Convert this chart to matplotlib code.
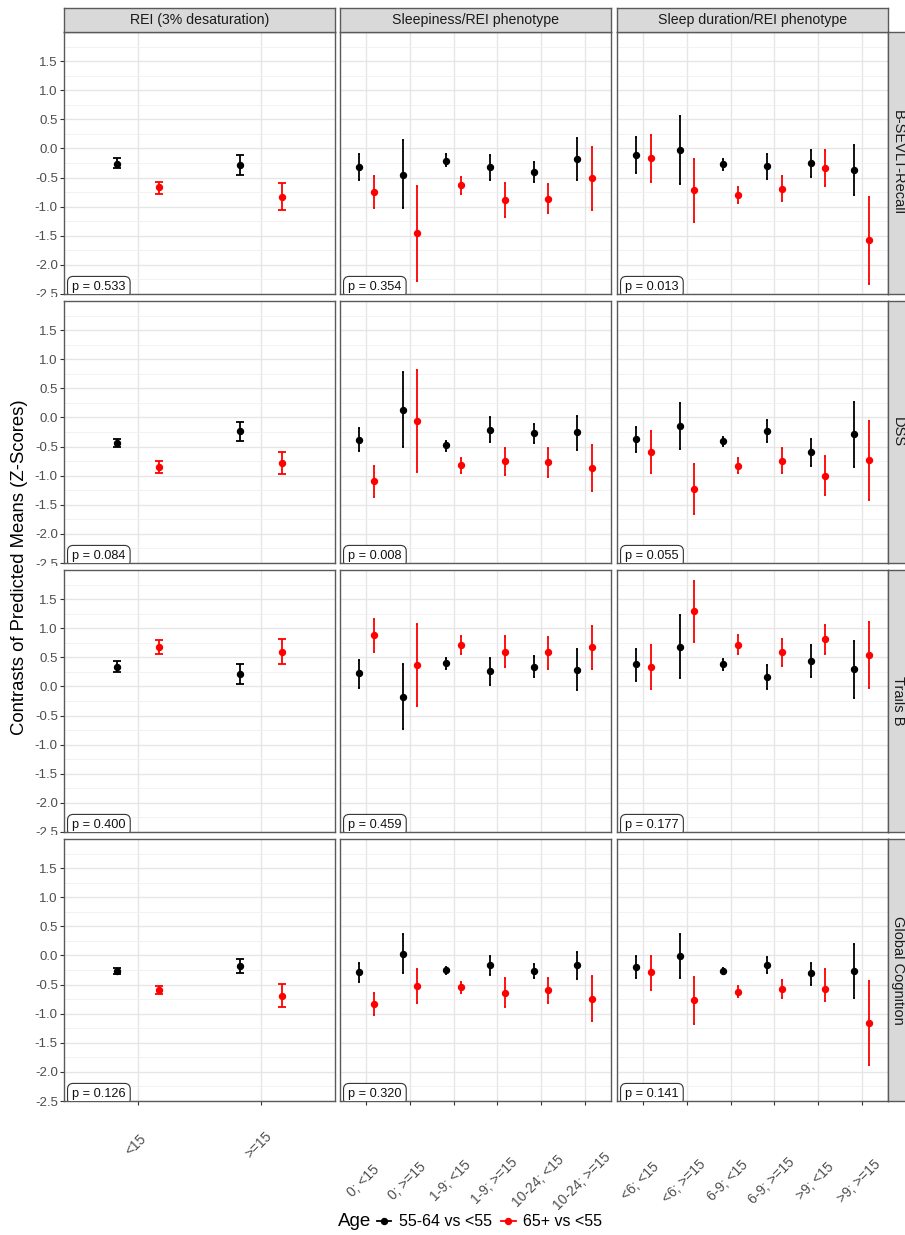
import matplotlib
matplotlib.use("Agg")
import matplotlib.pyplot as plt
import matplotlib.transforms as mtransforms
from matplotlib.lines import Line2D
import numpy as np

plt.rcParams['font.family'] = ['Liberation Sans', 'DejaVu Sans']

# ---------------- data ----------------
col_titles = ["REI (3% desaturation)", "Sleepiness/REI phenotype", "Sleep duration/REI phenotype"]
row_titles = ["B-SEVLT-Recall", "DSS", "Trails B", "Global Cognition"]
cats_rei = ["<15", ">=15"]
cats_sleepiness = ["0; <15", "0; >=15", "1-9; <15", "1-9; >=15", "10-24; <15", "10-24; >=15"]
cats_duration = ["<6; <15", "<6; >=15", "6-9; <15", "6-9; >=15", ">9; <15", ">9; >=15"]
series_labels = ["55-64 vs <55", "65+ vs <55"]
series_colors = ["#000000", "#FF0000"]

# each panel: estimates, lower, upper for 55-64 (a) and 65+ (b)
recall_rei_a = dict(est=[-0.26, -0.28], lo=[-0.34, -0.45], hi=[-0.17, -0.11])
recall_rei_b = dict(est=[-0.67, -0.83], lo=[-0.79, -1.06], hi=[-0.57, -0.60])
recall_slp_a = dict(est=[-0.32, -0.45, -0.21, -0.32, -0.41, -0.18],
                    lo=[-0.55, -1.03, -0.31, -0.54, -0.58, -0.54],
                    hi=[-0.09, 0.14, -0.09, -0.12, -0.23, 0.18])
recall_slp_b = dict(est=[-0.75, -1.46, -0.63, -0.89, -0.86, -0.51],
                    lo=[-1.02, -2.27, -0.78, -1.17, -1.11, -1.05],
                    hi=[-0.47, -0.64, -0.49, -0.60, -0.61, 0.02])
recall_dur_a = dict(est=[-0.11, -0.03, -0.27, -0.31, -0.25, -0.37],
                    lo=[-0.42, -0.61, -0.37, -0.52, -0.49, -0.80],
                    hi=[0.20, 0.55, -0.18, -0.10, -0.02, 0.06])
recall_dur_b = dict(est=[-0.17, -0.72, -0.80, -0.69, -0.34, -1.58],
                    lo=[-0.58, -1.26, -0.93, -0.90, -0.64, -2.32],
                    hi=[0.23, -0.18, -0.67, -0.48, -0.03, -0.83])

dss_rei_a = dict(est=[-0.44, -0.23], lo=[-0.50, -0.40], hi=[-0.37, -0.07])
dss_rei_b = dict(est=[-0.85, -0.78], lo=[-0.95, -0.97], hi=[-0.75, -0.59])
dss_slp_a = dict(est=[-0.38, 0.13, -0.48, -0.21, -0.27, -0.25],
                 lo=[-0.57, -0.51, -0.57, -0.42, -0.44, -0.56],
                 hi=[-0.18, 0.78, -0.40, 0.00, -0.12, 0.03])
dss_slp_b = dict(est=[-1.10, -0.06, -0.81, -0.75, -0.77, -0.87],
                 lo=[-1.37, -0.94, -0.95, -0.98, -1.02, -1.27],
                 hi=[-0.83, 0.81, -0.69, -0.53, -0.52, -0.48])
dss_dur_a = dict(est=[-0.37, -0.15, -0.41, -0.24, -0.60, -0.29],
                 lo=[-0.59, -0.55, -0.49, -0.42, -0.83, -0.85],
                 hi=[-0.16, 0.24, -0.33, -0.05, -0.37, 0.27])
dss_dur_b = dict(est=[-0.59, -1.23, -0.83, -0.74, -1.00, -0.73],
                 lo=[-0.95, -1.65, -0.95, -0.95, -1.33, -1.41],
                 hi=[-0.24, -0.80, -0.70, -0.53, -0.67, -0.06])

trails_rei_a = dict(est=[0.34, 0.21], lo=[0.24, 0.04], hi=[0.44, 0.39])
trails_rei_b = dict(est=[0.68, 0.60], lo=[0.55, 0.39], hi=[0.80, 0.81])
trails_slp_a = dict(est=[0.23, -0.18, 0.40, 0.26, 0.34, 0.29],
                    lo=[-0.02, -0.73, 0.30, 0.03, 0.16, -0.06],
                    hi=[0.46, 0.38, 0.49, 0.48, 0.53, 0.65])
trails_slp_b = dict(est=[0.88, 0.37, 0.72, 0.60, 0.59, 0.67],
                    lo=[0.60, -0.33, 0.55, 0.34, 0.30, 0.30],
                    hi=[1.15, 1.07, 0.87, 0.87, 0.85, 1.04])
trails_dur_a = dict(est=[0.38, 0.68, 0.38, 0.16, 0.44, 0.30],
                    lo=[0.09, 0.14, 0.28, -0.04, 0.16, -0.19],
                    hi=[0.65, 1.22, 0.47, 0.36, 0.72, 0.78])
trails_dur_b = dict(est=[0.33, 1.30, 0.72, 0.59, 0.81, 0.54],
                    lo=[-0.05, 0.77, 0.56, 0.35, 0.55, -0.02],
                    hi=[0.71, 1.81, 0.88, 0.81, 1.06, 1.10])

glob_rei_a = dict(est=[-0.27, -0.18], lo=[-0.32, -0.30], hi=[-0.22, -0.06])
glob_rei_b = dict(est=[-0.60, -0.69], lo=[-0.67, -0.89], hi=[-0.53, -0.49])
glob_slp_a = dict(est=[-0.29, 0.03, -0.25, -0.17, -0.27, -0.17],
                  lo=[-0.45, -0.30, -0.32, -0.33, -0.38, -0.40],
                  hi=[-0.13, 0.37, -0.19, -0.01, -0.15, 0.06])
glob_slp_b = dict(est=[-0.83, -0.52, -0.55, -0.64, -0.60, -0.74],
                  lo=[-1.02, -0.82, -0.65, -0.88, -0.82, -1.13],
                  hi=[-0.64, -0.24, -0.46, -0.39, -0.38, -0.36])
glob_dur_a = dict(est=[-0.20, -0.01, -0.26, -0.17, -0.31, -0.27],
                  lo=[-0.39, -0.38, -0.32, -0.31, -0.51, -0.73],
                  hi=[-0.01, 0.36, -0.21, -0.03, -0.13, 0.20])
glob_dur_b = dict(est=[-0.29, -0.77, -0.62, -0.57, -0.57, -1.16],
                  lo=[-0.59, -1.18, -0.71, -0.73, -0.79, -1.88],
                  hi=[-0.01, -0.37, -0.53, -0.42, -0.24, -0.44])

p_values = [["0.533", "0.354", "0.013"],
            ["0.084", "0.008", "0.055"],
            ["0.400", "0.459", "0.177"],
            ["0.126", "0.320", "0.141"]]

panels = [
    [(recall_rei_a, recall_rei_b), (recall_slp_a, recall_slp_b), (recall_dur_a, recall_dur_b)],
    [(dss_rei_a, dss_rei_b), (dss_slp_a, dss_slp_b), (dss_dur_a, dss_dur_b)],
    [(trails_rei_a, trails_rei_b), (trails_slp_a, trails_slp_b), (trails_dur_a, trails_dur_b)],
    [(glob_rei_a, glob_rei_b), (glob_slp_a, glob_slp_b), (glob_dur_a, glob_dur_b)],
]
col_cats = [cats_rei, cats_sleepiness, cats_duration]

# ---------------- layout ----------------
W, H, DPI = 905, 1235, 100
fig = plt.figure(figsize=(W / DPI, H / DPI), dpi=DPI)
fig.patch.set_facecolor("white")

col_x = [64, 340, 617]
col_w = 271
row_top = [32, 301, 570, 839]
row_h = 262
strip_h = 24
BORDER = "#5A5A5A"
TICKTXT = "#4D4D4D"


def rect(x0, y0, w, h):
    return [x0 / W, 1 - (y0 + h) / H, w / W, h / H]


dodge = 0.17
cap_px = [4.0, 1.3, 1.3]

for r in range(4):
    for c in range(3):
        ax = fig.add_axes(rect(col_x[c], row_top[r], col_w, row_h))
        cats = col_cats[c]
        n = len(cats)
        xpos = np.arange(1, n + 1)
        ax.set_xlim(0.4, n + 0.6)
        ax.set_ylim(-2.5, 2.0)
        ax.set_yticks(np.arange(-2.5, 1.51, 0.5))
        ax.set_yticks(np.arange(-2.25, 2.0, 0.5), minor=True)
        ax.set_xticks(xpos)
        ax.grid(True, which="major", color="#E6E6E6", lw=1.0, zorder=0)
        ax.grid(True, which="minor", axis="y", color="#F0F0F0", lw=0.6, zorder=0)
        ax.set_axisbelow(True)
        for s in ax.spines.values():
            s.set_color(BORDER)
            s.set_linewidth(1.0)
        if c == 0:
            ax.set_yticklabels([f"{v:.1f}" for v in np.arange(-2.5, 1.51, 0.5)])
            ax.tick_params(axis="y", which="major", length=3, width=0.8, color="#333333",
                           labelsize=9.5, labelcolor=TICKTXT, pad=1.5)
            if r < 3:
                # bottom label is partly hidden by the panel below in the original
                lab = ax.yaxis.get_major_ticks()[0].label1
                clip = mtransforms.TransformedBbox(
                    mtransforms.Bbox.from_extents(0, 1 - (row_top[r] + row_h + 3) / H,
                                                  col_x[0] / W, 1), fig.transFigure)
                lab.set_clip_on(True)
                lab.set_clip_box(clip)
        else:
            ax.tick_params(axis="y", which="major", length=0, labelleft=False)
        ax.tick_params(axis="y", which="minor", length=0)
        ax.tick_params(axis="x", labelbottom=False)
        if r == 3:
            ax.tick_params(axis="x", length=3, width=0.8, color="#333333")
        else:
            ax.tick_params(axis="x", length=0)

        for k, (d, colr) in enumerate(zip(panels[r][c], series_colors)):
            est = np.array(d["est"])
            lo = np.array(d["lo"])
            hi = np.array(d["hi"])
            xx = xpos + (-dodge if k == 0 else dodge)
            ax.errorbar(xx, est, yerr=[est - lo, hi - est], fmt="o", color=colr,
                        ms=4.3, elinewidth=1.3, capsize=cap_px[c] * 0.72, capthick=1.3,
                        zorder=3)

        ax.text(0.03, -2.38, f"p = {p_values[r][c]}",
                transform=mtransforms.blended_transform_factory(ax.transAxes, ax.transData),
                ha="left", va="center", fontsize=9.2, color="#111111",
                bbox=dict(boxstyle="round,pad=0.36,rounding_size=0.45", fc="white",
                          ec="#333333", lw=0.8),
                clip_on=True, zorder=5)

        # x labels
        if r == 3:
            tr = mtransforms.blended_transform_factory(ax.transData, fig.transFigure)
            ycen = 1145 if c == 0 else 1181
            for xi, lab in zip(xpos, cats):
                ax.text(xi - 0.07 * (1 if c > 0 else 0.3), 1 - ycen / H, lab, transform=tr,
                        rotation=45, ha="center", va="center", rotation_mode="anchor",
                        fontsize=10, color=TICKTXT, clip_on=False)

    # right strip
    sax = fig.add_axes(rect(888, row_top[r], 24, row_h))
    sax.set_facecolor("#D9D9D9")
    sax.set_xticks([]); sax.set_yticks([])
    for s in sax.spines.values():
        s.set_color(BORDER); s.set_linewidth(1.0)
    sax.text(0.42, 0.5, row_titles[r], rotation=-90, ha="center", va="center",
             fontsize=10.5, color="#1A1A1A", transform=sax.transAxes)

# top strips
for c in range(3):
    sax = fig.add_axes(rect(col_x[c], 8, col_w, strip_h))
    sax.set_facecolor("#D9D9D9")
    sax.set_xticks([]); sax.set_yticks([])
    for s in sax.spines.values():
        s.set_color(BORDER); s.set_linewidth(1.0)
    sax.text(0.5, 0.5, col_titles[c], ha="center", va="center", fontsize=10.2,
             color="#1A1A1A", transform=sax.transAxes)

# y axis title
fig.text(20 / W, 1 - 567 / H, "Contrasts of Predicted Means (Z-Scores)", rotation=90,
         ha="center", va="center", fontsize=13.3, color="#000000")

# legend
fig.text(338 / W, 1 - 1222 / H, "Age", ha="left", va="center", fontsize=13.5)
handles = [Line2D([0], [0], color=col, marker="o", ms=4.3, lw=1.3) for col in series_colors]
fig.legend(handles, series_labels, ncol=2, loc="center left",
           bbox_to_anchor=(377 / W, 1 - 1222 / H), frameon=False, handlelength=0.9,
           handletextpad=0.45, columnspacing=0.6, fontsize=11.5, borderaxespad=0, borderpad=0)

fig.savefig("out.png", dpi=DPI, facecolor="white")
